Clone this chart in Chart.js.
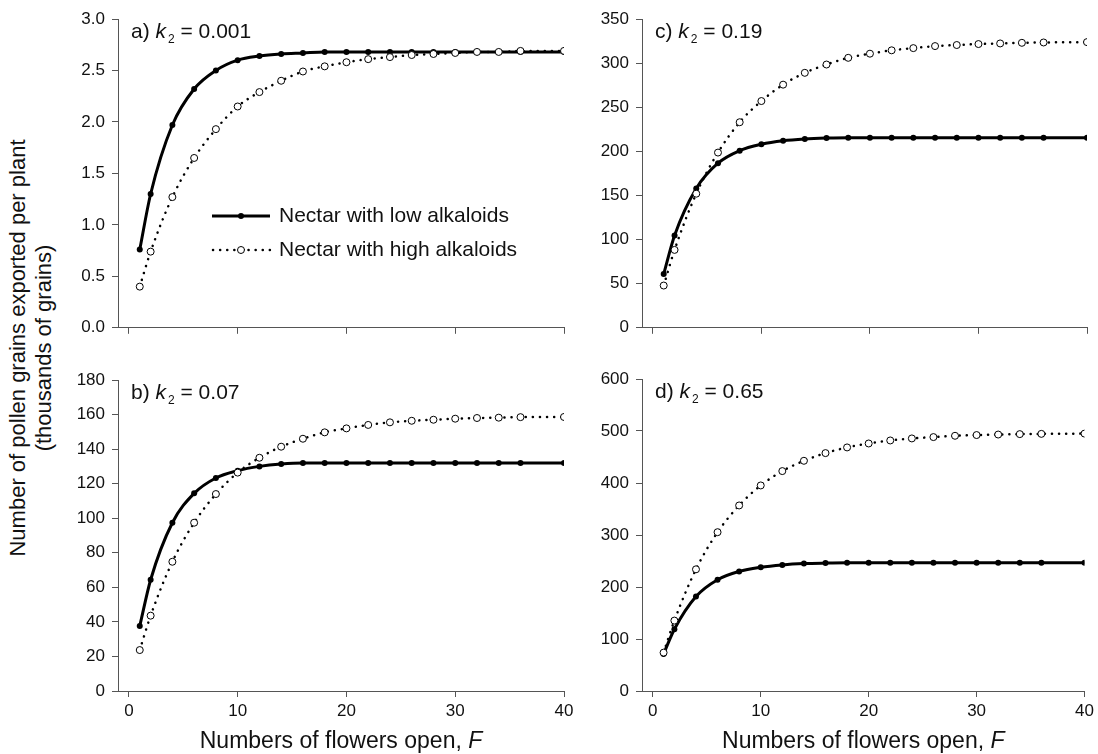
<!DOCTYPE html>
<html lang="en">
<head>
<meta charset="UTF-8">
<title>Pollen export vs flowers open</title>
<script src="https://cdn.jsdelivr.net/npm/chart.js"></script>
<style>
    body { margin: 0; background: #fff; font-family: "Liberation Sans", Arial, sans-serif; }
    .wrap { position: relative; width: 1098px; height: 754px; overflow: hidden; }
    canvas { position: absolute; }
    .ytitle {
        position: absolute; left: -268px; top: 321px; width: 600px; height: 54px;
        transform: rotate(-90deg); text-align: center;
        font-size: 22px; line-height: 26px; color: #111;
    }
</style>
</head>
<body>
<div class="wrap">
    <div class="ytitle">Number of pollen grains exported per plant<br>(thousands of grains)</div>
    <canvas id="pa" style="left:60px;top:0px;width:520px;height:345px" width="520" height="345"></canvas>
    <canvas id="pc" style="left:584px;top:0px;width:514px;height:345px" width="514" height="345"></canvas>
    <canvas id="pb" style="left:60px;top:360px;width:520px;height:394px" width="520" height="394"></canvas>
    <canvas id="pd" style="left:584px;top:360px;width:514px;height:394px" width="514" height="394"></canvas>
</div>
<script>
    // flowers open (x)
    const flowers = [1, 2, 4, 6, 8, 10, 12, 14, 16, 18, 20, 22, 24, 26, 28, 30, 32, 34, 36, 40];

    // a) k2 = 0.001
    const lowA  = [0.76, 1.30, 1.97, 2.32, 2.50, 2.60, 2.64, 2.66, 2.67, 2.68, 2.68, 2.68, 2.68, 2.68, 2.68, 2.68, 2.68, 2.68, 2.68, 2.68];
    const highA = [0.40, 0.74, 1.27, 1.65, 1.93, 2.15, 2.29, 2.40, 2.49, 2.54, 2.58, 2.61, 2.63, 2.65, 2.66, 2.67, 2.68, 2.68, 2.69, 2.69];
    // b) k2 = 0.07
    const lowB  = [37.6, 64.4, 97.4, 114.4, 123.3, 127.5, 130.0, 131.4, 132, 132, 132, 132, 132, 132, 132, 132, 132, 132, 132, 132];
    const highB = [23.7, 43.6, 74.8, 97.4, 114, 126.4, 135, 141.4, 146, 149.7, 152, 154, 155.5, 156.4, 157, 157.6, 158, 158.2, 158.5, 158.6];
    // c) k2 = 0.19
    const lowC  = [61, 104.7, 158, 186.6, 200.8, 208, 212, 214, 215, 215.5, 215.5, 215.5, 215.5, 215.5, 215.5, 215.5, 215.5, 215.5, 215.5, 215.5];
    const highC = [47.9, 88.3, 152, 198.6, 233, 257, 275.6, 289, 298.4, 306, 310.7, 314.5, 317, 319.3, 320.5, 321.6, 322.3, 323, 323.4, 323.8];
    // d) k2 = 0.65
    const lowD  = [71.2, 118.7, 181.6, 214, 230, 238, 242.5, 245, 246, 246.5, 246.5, 246.5, 246.5, 246.5, 246.5, 246.5, 246.5, 246.5, 246.5, 246.5];
    const highD = [73.8, 135.4, 234, 305.4, 356.8, 395.3, 422.9, 442.7, 457.5, 468.4, 476, 481.8, 485.7, 488.3, 490.8, 492.2, 493.2, 494, 494.5, 495];

    const xTicks = [0, 10, 20, 30, 40];
    const panelLetters = ['a)', 'b)', 'c)', 'd)'];
    const k2Values = ['0.001', '0.07', '0.19', '0.65'];
    const yMax = [3, 180, 350, 600];
    const yStep = [0.5, 20, 50, 100];
    const legendLabels = ['Nectar with low alkaloids', 'Nectar with high alkaloids'];
    const xTitle = 'Numbers of flowers open, ';

    const FONT = '"Liberation Sans", Arial, sans-serif';
    const axisColor = '#555';

    function pts(ys) {
        return flowers.map((x, i) => ({ x: x, y: ys[i] }));
    }

    // draws "a) k2 = 0.001" with italic k and subscript 2
    function drawPanelLabel(ctx, x, y, letter, k2) {
        ctx.save();
        ctx.fillStyle = '#111';
        ctx.textBaseline = 'alphabetic';
        ctx.font = '21px ' + FONT;
        ctx.fillText(letter + ' ', x, y);
        x += ctx.measureText(letter + ' ').width;
        ctx.font = 'italic 21px ' + FONT;
        ctx.fillText('k', x, y);
        x += ctx.measureText('k').width + 2;
        ctx.font = '12px ' + FONT;
        ctx.fillText('2', x, y + 5);
        x += ctx.measureText('2').width;
        ctx.font = '21px ' + FONT;
        ctx.fillText(' = ' + k2, x, y);
        ctx.restore();
    }

    function drawLegend(ctx, x, y) {
        ctx.save();
        ctx.strokeStyle = '#000';
        // solid line with filled dot
        ctx.lineWidth = 3;
        ctx.beginPath(); ctx.moveTo(x, y); ctx.lineTo(x + 58, y); ctx.stroke();
        ctx.fillStyle = '#000';
        ctx.beginPath(); ctx.arc(x + 29, y, 3, 0, Math.PI * 2); ctx.fill();
        // dotted line with open circle
        const y2 = y + 34;
        ctx.lineWidth = 2.5;
        ctx.lineCap = 'round';
        ctx.setLineDash([0.1, 7]);
        ctx.beginPath(); ctx.moveTo(x + 1, y2); ctx.lineTo(x + 58, y2); ctx.stroke();
        ctx.setLineDash([]);
        ctx.lineWidth = 1;
        ctx.fillStyle = '#fff';
        ctx.beginPath(); ctx.arc(x + 29, y2, 3.5, 0, Math.PI * 2); ctx.fill(); ctx.stroke();
        // text
        ctx.fillStyle = '#111';
        ctx.font = '21px ' + FONT;
        ctx.textBaseline = 'middle';
        ctx.fillText(legendLabels[0], x + 67, y);
        ctx.fillText(legendLabels[1], x + 67, y2);
        ctx.restore();
    }

    function drawXTitle(ctx, area, y) {
        ctx.save();
        ctx.fillStyle = '#111';
        ctx.textBaseline = 'middle';
        ctx.font = '23px ' + FONT;
        const w1 = ctx.measureText(xTitle).width;
        ctx.font = 'italic 23px ' + FONT;
        const w2 = ctx.measureText('F').width;
        let x = (area.left + area.right) / 2 - (w1 + w2) / 2;
        ctx.font = '23px ' + FONT;
        ctx.fillText(xTitle, x, y);
        ctx.font = 'italic 23px ' + FONT;
        ctx.fillText('F', x + w1, y);
        ctx.restore();
    }

    function makePanel(id, idx, low, high, opts) {
        const textPlugin = {
            id: 'panelText' + idx,
            afterDraw(chart) {
                const ctx = chart.ctx;
                const a = chart.chartArea;
                drawPanelLabel(ctx, a.left + 13, a.top + 19, panelLetters[idx], k2Values[idx]);
                if (opts.legend) drawLegend(ctx, a.left + 94, a.top + 197);
                if (opts.bottom) drawXTitle(ctx, a, a.bottom + 51);
            }
        };

        new Chart(document.getElementById(id), {
            type: 'line',
            data: {
                datasets: [
                    {
                        label: legendLabels[1],
                        data: pts(high),
                        order: 1,
                        borderColor: '#000',
                        borderWidth: 2.5,
                        borderDash: [0.1, 7],
                        borderCapStyle: 'round',
                        cubicInterpolationMode: 'monotone',
                        pointRadius: 3.5,
                        pointBackgroundColor: '#fff',
                        pointBorderColor: '#000',
                        pointBorderWidth: 1
                    },
                    {
                        label: legendLabels[0],
                        data: pts(low),
                        order: 2,
                        borderColor: '#000',
                        borderWidth: 3,
                        cubicInterpolationMode: 'monotone',
                        pointRadius: 3,
                        pointBackgroundColor: '#000',
                        pointBorderColor: '#000',
                        pointBorderWidth: 0
                    }
                ]
            },
            options: {
                responsive: false,
                animation: false,
                layout: { padding: { left: 0, right: opts.right, top: opts.top, bottom: 0 } },
                plugins: { legend: { display: false }, tooltip: { enabled: false } },
                scales: {
                    x: {
                        type: 'linear',
                        min: -1,
                        max: 40,
                        afterBuildTicks(scale) { scale.ticks = xTicks.map(v => ({ value: v })); },
                        afterFit(scale) { scale.height = opts.bottom ? 63 : 14; },
                        border: { display: true, color: axisColor, width: 1 },
                        grid: { display: true, drawOnChartArea: false, drawTicks: true, tickLength: 6, color: axisColor },
                        ticks: {
                            display: !!opts.bottom,
                            color: '#111',
                            padding: 4,
                            maxRotation: 0,
                            font: { family: FONT, size: 17 }
                        }
                    },
                    y: {
                        min: 0,
                        max: yMax[idx],
                        afterFit(scale) { scale.width = 58; },
                        border: { display: true, color: axisColor, width: 1 },
                        grid: { display: true, drawOnChartArea: false, drawTicks: true, tickLength: 6, color: axisColor },
                        ticks: {
                            stepSize: yStep[idx],
                            color: '#111',
                            padding: 7,
                            font: { family: FONT, size: 17 },
                            callback: v => idx === 0 ? v.toFixed(1) : v
                        }
                    }
                }
            },
            plugins: [textPlugin]
        });
    }

    makePanel('pa', 0, lowA, highA, { top: 19, right: 16, legend: true, bottom: false });
    makePanel('pc', 2, lowC, highC, { top: 19, right: 11, legend: false, bottom: false });
    makePanel('pb', 1, lowB, highB, { top: 20, right: 16, legend: false, bottom: true });
    makePanel('pd', 3, lowD, highD, { top: 19, right: 11, legend: false, bottom: true });
</script>
</body>
</html>
